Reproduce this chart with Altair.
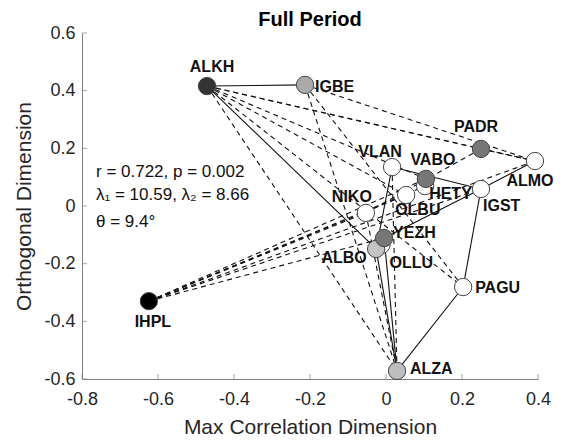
import altair as alt
import pandas as pd

# ---------------- data ----------------
names = ["OLLU", "ALKH", "IGBE", "PADR", "ALMO", "IGST", "HETY", "VABO",
         "VLAN", "OLBU", "NIKO", "ALBO", "YEZH", "PAGU", "ALZA", "IHPL"]
x_vals = [-0.012, -0.471, -0.213, 0.250, 0.392, 0.250, 0.103, 0.105,
          0.016, 0.053, -0.053, -0.026, -0.005, 0.203, 0.029, -0.624]
y_vals = [-0.135, 0.416, 0.420, 0.198, 0.156, 0.059, 0.069, 0.094,
          0.135, 0.038, -0.024, -0.149, -0.111, -0.281, -0.572, -0.330]
fills = ["#ffffff", "#333333", "#aaaaaa", "#777777", "#ffffff", "#ffffff", "#ffffff", "#777777",
         "#ffffff", "#ffffff", "#ffffff", "#c4c4c4", "#777777", "#ffffff", "#bdbdbd", "#000000"]

solid_edges = [("ALKH", "IGBE"), ("ALKH", "ALBO"), ("VLAN", "IGST"), ("IGST", "ALMO"),
               ("IGST", "YEZH"), ("IGST", "PAGU"), ("PAGU", "ALZA"), ("VLAN", "ALBO"),
               ("ALBO", "ALZA"), ("YEZH", "ALZA")]
dashed_edges = [("ALKH", "PADR"), ("ALKH", "ALMO"), ("ALKH", "VABO"), ("ALKH", "ALZA"),
                ("ALKH", "OLBU"), ("IGBE", "ALMO"), ("IGBE", "ALZA"), ("IGBE", "PAGU"),
                ("PADR", "ALMO"), ("PADR", "NIKO"), ("IHPL", "ALMO"),
                ("IHPL", "IGST"), ("IHPL", "VABO"), ("IHPL", "OLBU"), ("IHPL", "HETY"),
                ("IHPL", "NIKO"), ("IHPL", "YEZH"), ("VLAN", "ALZA"), ("ALKH", "PAGU"),
                ("NIKO", "ALZA")]

x_ticks = [-0.8, -0.6, -0.4, -0.2, 0, 0.2, 0.4]
y_ticks = [-0.6, -0.4, -0.2, 0, 0.2, 0.4, 0.6]

title_text = ["Full Period"]
x_title = "Max Correlation Dimension"
y_title = "Orthogonal Dimension"
annotations = ["r = 0.722, p = 0.002", "λ₁ = 10.59, λ₂ = 8.66", "θ = 9.4°"]

# ---------------- styling (label offsets in pixels) ----------------
label_style = {
    "ALKH": ("center", 5, -19), "IGBE": ("left", 10, 2), "PADR": ("center", -5, -22),
    "ALMO": ("center", -5, 20), "IGST": ("left", 2, 17), "HETY": ("left", 4, 8),
    "VABO": ("center", 7, -19), "VLAN": ("center", -12, -15), "OLBU": ("left", -11, 15),
    "NIKO": ("center", -14, -16), "ALBO": ("center", -32, 9), "YEZH": ("left", 9, -5),
    "OLLU": ("left", 8, 18), "PAGU": ("left", 12, 1), "ALZA": ("left", 13, -2),
    "IHPL": ("center", 4, 21),
}
ann_rows_px = [139, 162, 189]
FONT = "Liberation Sans"
W, H = 456, 346

nodes = pd.DataFrame({"name": names, "x": x_vals, "y": y_vals, "fill": fills})
pos = {n: (xv, yv) for n, xv, yv in zip(names, x_vals, y_vals)}


def edge_frame(edges):
    return pd.DataFrame({
        "x": [pos[a][0] for a, b in edges], "y": [pos[a][1] for a, b in edges],
        "x2": [pos[b][0] for a, b in edges], "y2": [pos[b][1] for a, b in edges],
    })


xs = alt.Scale(domain=[x_ticks[0], x_ticks[-1]], nice=False, zero=False)
ys = alt.Scale(domain=[y_ticks[0], y_ticks[-1]], nice=False, zero=False)
fmt_expr = "replace(format(datum.value, '~g'), '\u2212', '-')"

x_enc = alt.X("x:Q", scale=xs, title=x_title,
              axis=alt.Axis(values=x_ticks, labelExpr=fmt_expr, grid=False, tickSize=0,
                            labelFlush=False, labelPadding=11, titlePadding=8))
y_enc = alt.Y("y:Q", scale=ys, title=y_title,
              axis=alt.Axis(values=y_ticks, labelExpr=fmt_expr, grid=False, tickSize=0,
                            labelFlush=False, labelPadding=7, titlePadding=9))

solid = alt.Chart(edge_frame(solid_edges)).mark_rule(color="#111111", strokeWidth=1.1).encode(
    x=x_enc, y=y_enc, x2="x2:Q", y2="y2:Q")
dashed = alt.Chart(edge_frame(dashed_edges)).mark_rule(
    color="#111111", strokeWidth=1.1, strokeDash=[5, 4]).encode(
    x=alt.X("x:Q", scale=xs), y=alt.Y("y:Q", scale=ys), x2="x2:Q", y2="y2:Q")

points = alt.Chart(nodes).mark_point(filled=True, shape="circle", size=300,
                                     stroke="#444444", strokeWidth=1, opacity=1).encode(
    x=alt.X("x:Q", scale=xs), y=alt.Y("y:Q", scale=ys),
    fill=alt.Fill("fill:N", scale=None))

label_layers = []
for n in names:
    al, dx, dy = label_style[n]
    label_layers.append(
        alt.Chart(nodes).transform_filter(alt.datum.name == n).mark_text(
            align=al, baseline="middle", dx=dx, dy=dy, font=FONT, fontSize=16,
            fontWeight="bold", color="#111111").encode(
            x=alt.X("x:Q", scale=xs), y=alt.Y("y:Q", scale=ys), text="name:N"))

xtick_df = pd.DataFrame({"x": x_ticks})
ytick_df = pd.DataFrame({"y": y_ticks})
xticks = alt.Chart(xtick_df).mark_tick(color="#808080", size=5, thickness=1, orient="vertical").encode(
    x=alt.X("x:Q", scale=xs), y=alt.value(H - 2.5))
yticks = alt.Chart(ytick_df).mark_tick(color="#808080", size=5, thickness=1, orient="horizontal").encode(
    y=alt.Y("y:Q", scale=ys), x=alt.value(2.5))

ann_df = pd.DataFrame({"text": annotations, "row": [0, 1, 2]})
ann_layers = []
for i, t in enumerate(annotations):
    ann_layers.append(
        alt.Chart(ann_df).transform_filter(alt.datum.row == i).mark_text(
            align="left", baseline="middle", font=FONT, fontSize=17, color="#111111").encode(
            x=alt.value(14), y=alt.value(ann_rows_px[i]), text="text:N"))

title_layer = alt.Chart(pd.DataFrame({"t": title_text})).mark_text(
    align="center", baseline="alphabetic", font=FONT, fontSize=20, fontWeight="bold",
    color="#000000").encode(x=alt.value(W / 2), y=alt.value(-7), text="t:N")

chart = alt.layer(solid, dashed, xticks, yticks, points, *label_layers, *ann_layers,
                  title_layer).properties(
    width=W, height=H,
    autosize=alt.AutoSizeParams(type="none"),
    padding={"left": 74, "top": 25, "right": 18, "bottom": 60},
    background="#ffffff",
).configure_view(stroke=None).configure_axis(
    domainColor="#808080", labelFont=FONT, labelFontSize=18, labelColor="#262626",
    titleFont=FONT, titleFontSize=21, titleFontWeight="normal", titleColor="#262626",
)

chart.save("out.html", embed_options={"renderer": "svg", "actions": False})
